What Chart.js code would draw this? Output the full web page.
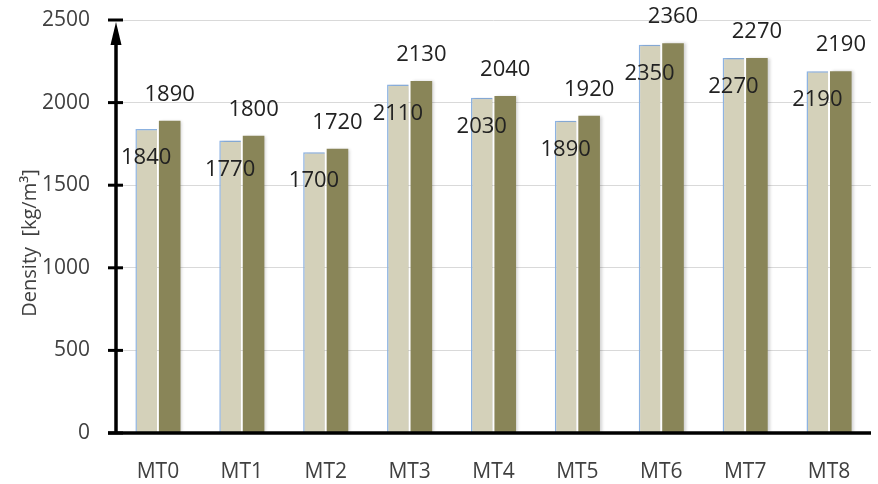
<!DOCTYPE html>
<html>
<head>
<meta charset="utf-8">
<script src="https://cdn.jsdelivr.net/npm/chart.js@4.4.1/dist/chart.umd.min.js"></script>
<style>
    html, body { margin: 0; padding: 0; background: #fff; }
    #wrap { width: 878px; height: 484px; }
</style>
</head>
<body>
<div id="wrap"><canvas id="densityChart" width="878" height="484"></canvas></div>
<script>
// Mix labels and the two density series (kg/m3)
const mixes = ['MT0', 'MT1', 'MT2', 'MT3', 'MT4', 'MT5', 'MT6', 'MT7', 'MT8'];
const densityA = [1840, 1770, 1700, 2110, 2030, 1890, 2350, 2270, 2190];
const densityB = [1890, 1800, 1720, 2130, 2040, 1920, 2360, 2270, 2190];
const yTicks = [0, 500, 1000, 1500, 2000, 2500];

const FONT = "'Open Sans', 'Liberation Sans', sans-serif";

// Soft shadow behind the bars
const barShadow = {
    id: 'barShadow',
    beforeDatasetDraw(chart) {
        const ctx = chart.ctx;
        ctx.save();
        ctx.shadowColor = 'rgba(0, 0, 0, 0.18)';
        ctx.shadowBlur = 3;
        ctx.shadowOffsetX = 2;
        ctx.shadowOffsetY = 0;
    },
    afterDatasetDraw(chart) {
        chart.ctx.restore();
    }
};

// Value labels, axis line with arrow, tick marks and the rotated axis title
const decorations = {
    id: 'decorations',
    afterDatasetsDraw(chart) {
        const ctx = chart.ctx;
        const y = chart.scales.y;
        const area = chart.chartArea;

        ctx.save();
        ctx.font = '22px ' + FONT;
        ctx.fillStyle = '#222';
        ctx.textAlign = 'center';
        ctx.textBaseline = 'middle';
        chart.getDatasetMeta(0).data.forEach((bar, i) => {
            ctx.fillText(String(densityA[i]), bar.x, bar.y + 29);
        });
        chart.getDatasetMeta(1).data.forEach((bar, i) => {
            ctx.fillText(String(densityB[i]), bar.x, bar.y - 26);
        });

        // axes
        const axisX = area.left;
        ctx.strokeStyle = '#000';
        ctx.lineWidth = 3.5;
        ctx.beginPath();
        ctx.moveTo(axisX, area.bottom);
        ctx.lineTo(axisX, y.getPixelForValue(2500) + 14);
        ctx.stroke();

        ctx.beginPath();
        ctx.moveTo(axisX - 8, area.bottom);
        ctx.lineTo(area.right, area.bottom);
        ctx.stroke();

        // arrow head
        const tip = y.getPixelForValue(2500) + 2;
        ctx.fillStyle = '#000';
        ctx.beginPath();
        ctx.moveTo(axisX, tip);
        ctx.lineTo(axisX - 5.5, tip + 23);
        ctx.lineTo(axisX + 5.5, tip + 23);
        ctx.closePath();
        ctx.fill();

        // tick marks crossing the axis
        ctx.lineWidth = 3;
        yTicks.forEach(v => {
            const py = y.getPixelForValue(v);
            ctx.beginPath();
            ctx.moveTo(axisX - 8, py);
            ctx.lineTo(axisX + 7, py);
            ctx.stroke();
        });

        // axis title
        ctx.translate(30, 243);
        ctx.rotate(-Math.PI / 2);
        ctx.font = '20px ' + FONT;
        ctx.fillStyle = '#404040';
        ctx.textAlign = 'center';
        ctx.textBaseline = 'middle';
        ctx.fillText('Density  [kg/m\u00B3]', 0, 0);
        ctx.restore();
    }
};

new Chart(document.getElementById('densityChart'), {
    type: 'bar',
    data: {
        labels: mixes,
        datasets: [{
            data: densityA,
            backgroundColor: '#d4d1ba',
            borderColor: '#8eb4e3',
            borderWidth: { left: 1.5, top: 1.5, right: 0, bottom: 0 },
            borderSkipped: false,
            categoryPercentage: 0.56,
            barPercentage: 0.92
        }, {
            data: densityB,
            backgroundColor: '#898558',
            borderWidth: 0,
            categoryPercentage: 0.56,
            barPercentage: 0.92
        }]
    },
    options: {
        responsive: false,
        animation: false,
        layout: {
            padding: { top: 20, right: 7, bottom: 0, left: 0 }
        },
        plugins: {
            legend: { display: false },
            tooltip: { enabled: false }
        },
        scales: {
            x: {
                grid: { display: false, drawTicks: false },
                border: { display: false },
                ticks: {
                    color: '#404040',
                    font: { family: FONT, size: 21 },
                    padding: 26
                },
                afterFit(scale) { scale.height = 51; }
            },
            y: {
                min: 0,
                max: 2500,
                // invisible tick marks keep the labels clear of the axis
                grid: {
                    color: '#d9d9d9',
                    lineWidth: 1,
                    drawTicks: true,
                    tickLength: 26,
                    tickColor: 'rgba(0,0,0,0)'
                },
                border: { display: false },
                ticks: {
                    stepSize: 500,
                    color: '#404040',
                    font: { family: FONT, size: 21 },
                    padding: 0,
                    callback: value => String(value)
                },
                afterFit(scale) { scale.width = 116; }
            }
        }
    },
    plugins: [barShadow, decorations]
});
</script>
</body>
</html>
